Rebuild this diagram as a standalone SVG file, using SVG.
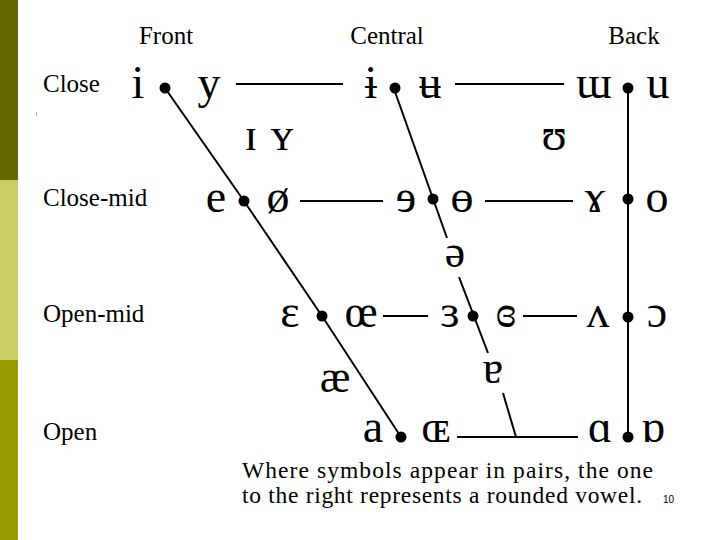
<svg xmlns="http://www.w3.org/2000/svg" width="720" height="540" viewBox="0 0 720 540">
<style>
.lbl{font-family:"Liberation Serif","Times New Roman",serif;font-size:25px;fill:#000}
.ipa{font-family:"Liberation Serif","DejaVu Serif",serif;font-size:46px;fill:#000;text-anchor:middle}
.ln{stroke:#000;stroke-width:2;fill:none}
.foot{font-family:"Liberation Serif","Times New Roman",serif;font-size:23.5px;fill:#000}
</style>
<defs><circle id="dot" r="5.5" fill="#000"/></defs>
<rect width="720" height="540" fill="#fff"/>
<g id="sidebar">
<rect x="0" y="0" width="18" height="180" fill="#666600"/>
<rect x="0" y="180" width="18" height="180" fill="#cccc66"/>
<rect x="0" y="360" width="18" height="180" fill="#999900"/>
<rect x="36" y="112" width="1" height="4" fill="#bbb"/>
</g>
<g id="headers" class="lbl" text-anchor="middle">
<text x="166" y="44">Front</text>
<text x="387" y="44">Central</text>
<text x="634" y="44">Back</text>
</g>
<g id="rowlabels" class="lbl">
<text x="43" y="92">Close</text>
<text x="43" y="206">Close-mid</text>
<text x="43" y="322">Open-mid</text>
<text x="43" y="440">Open</text>
</g>
<g id="connectors">
<polyline class="ln" points="165,88 244,201 322,316 401,437"/>
<line class="ln" x1="394" y1="89" x2="447" y2="238"/>
<line class="ln" x1="459" y1="277" x2="488" y2="353"/>
<line class="ln" x1="503" y1="393" x2="516" y2="437"/>
<line class="ln" x1="628" y1="88" x2="628" y2="437" stroke-width="3"/>
<line class="ln" x1="236" y1="84" x2="343" y2="84"/>
<line class="ln" x1="455" y1="84" x2="564" y2="84"/>
<line class="ln" x1="300" y1="201" x2="383" y2="201"/>
<line class="ln" x1="485" y1="201" x2="573" y2="201"/>
<line class="ln" x1="383" y1="316" x2="428" y2="316"/>
<line class="ln" x1="523" y1="316" x2="577" y2="316"/>
<line class="ln" x1="457" y1="437" x2="578" y2="437"/>
</g>
<g id="dots">
<use href="#dot" x="165" y="88"/>
<use href="#dot" x="395" y="88"/>
<use href="#dot" x="628" y="88"/>
<use href="#dot" x="244" y="201"/>
<use href="#dot" x="433" y="199"/>
<use href="#dot" x="628" y="199"/>
<use href="#dot" x="322" y="316"/>
<use href="#dot" x="473" y="316"/>
<use href="#dot" x="628" y="317"/>
<use href="#dot" x="401" y="437"/>
<use href="#dot" x="628" y="437"/>
</g>
<g id="close" class="ipa">
<text x="138" y="98">i</text>
<text x="209" y="98">y</text>
<text x="371" y="98">ɨ</text>
<text x="430" y="98">ʉ</text>
<text x="594" y="98">ɯ</text>
<text x="658" y="98">u</text>
</g>
<g id="near-close" class="ipa">
<text x="251" y="150">ɪ</text>
<text x="282" y="150">ʏ</text>
<text x="554" y="150">ʊ</text>
</g>
<g id="close-mid" class="ipa">
<text x="216" y="212">e</text>
<text x="278" y="212">ø</text>
<text x="406" y="212">ɘ</text>
<text x="462" y="212">ɵ</text>
<text x="595" y="212">ɤ</text>
<text x="657" y="212">o</text>
</g>
<g id="mid" class="ipa">
<text x="455" y="267">ə</text>
</g>
<g id="open-mid" class="ipa">
<text x="290" y="327">ɛ</text>
<text x="361" y="327">œ</text>
<text x="450" y="327">ɜ</text>
<text x="506" y="327">ɞ</text>
<text x="598" y="327">ʌ</text>
<text x="657" y="327">ɔ</text>
</g>
<g id="near-open" class="ipa">
<text x="335" y="392">æ</text>
<text x="493" y="383">ɐ</text>
</g>
<g id="open" class="ipa">
<text x="373" y="442">a</text>
<text x="436" y="442">ɶ</text>
<text x="600" y="442">ɑ</text>
<text x="653" y="442">ɒ</text>
</g>
<g id="footer">
<text class="foot" x="242" y="478" textLength="411" lengthAdjust="spacing">Where symbols appear in pairs, the one</text>
<text class="foot" x="242" y="503" textLength="400" lengthAdjust="spacing">to the right represents a rounded vowel.</text>
<text x="663" y="503" font-family="Liberation Sans, Arial, sans-serif" font-size="10" fill="#000">10</text>
</g>
</svg>
